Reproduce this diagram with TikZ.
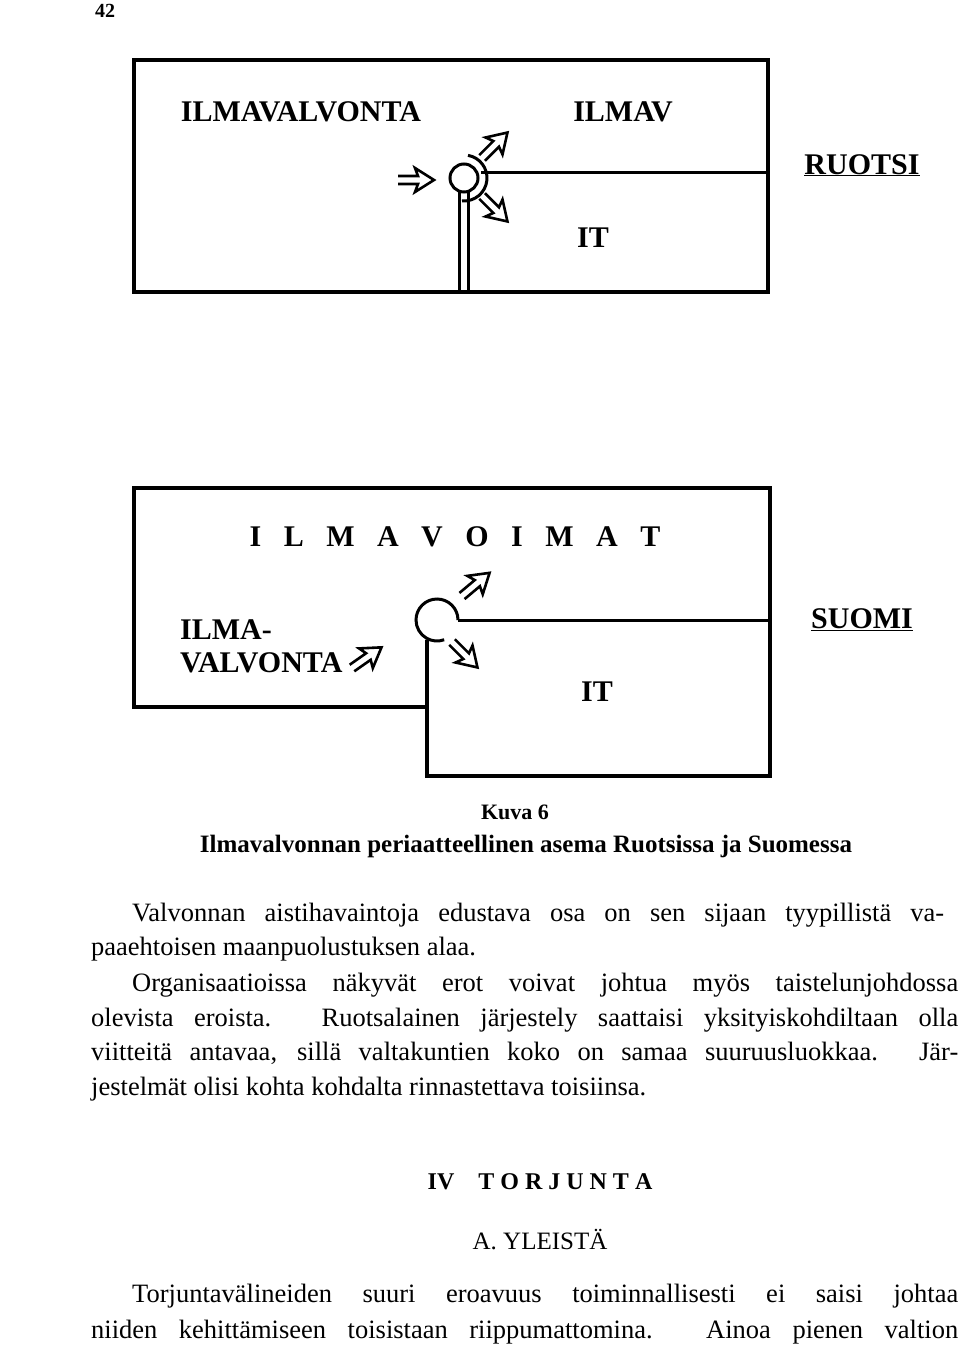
\documentclass[tikz,border=0pt]{standalone}
\usepackage{fontspec}
\setmainfont{Liberation Serif}
\newfontfamily\lab{Liberation Serif}
\begin{document}
\begin{tikzpicture}[x=1pt,y=-1pt,
  box/.style={line width=3.5pt},
  thin/.style={line width=3pt},
  lbl/.style={font=\lab\bfseries\fontsize{30}{30}\selectfont,inner sep=0pt},
  body/.style={font=\fontsize{26.5}{30}\selectfont,inner sep=0pt,anchor=base west},
  pics/barrow/.style={code={\draw[line width=2.6pt,line join=miter,fill=white]
     (0,-4)--(20,-4)--(17,-12)--(36,0)--(17,12)--(20,4)--(0,4);}}]
\useasboundingbox (0,0) rectangle (960,1346);
\node[anchor=base west,inner sep=0pt,font=\bfseries\fontsize{20}{20}\selectfont] (pg) at (95,18) {42};
% top diagram
\draw[box] (134,60) rectangle (768,292);
\draw[thin] (481,172) -- (768,172);
\node[circle,draw,line width=3pt,minimum size=28pt,inner sep=0pt] (c1) at (464,178) {};
\draw[thin] (464,178) ++(95:23) arc (95:-80:23);
\draw[thin] (459,192) -- (459,292);
\draw[thin] (468,192) -- (468,292);
\pic at (398,180) {barrow};
\pic[rotate=45] at (482,158) {barrow};
\pic[rotate=-45] at (482,196) {barrow};
\node[lbl] (t1) at (301,112) {ILMAVALVONTA};
\node[lbl] (t2) at (623,112) {ILMAV};
\node[lbl] (t3) at (593,238) {IT};
\node[lbl,anchor=base] (t4) at (862,174) {\underline{RUOTSI}};
% bottom diagram
\draw[box] (427,707) -- (134,707) -- (134,488) -- (770,488) -- (770,776) -- (427,776) -- (427,640);
\draw[thin] (458,620) -- (770,620);
\draw[thin] (458,620) arc (0:-180:21) arc (180:70:21);
\pic[rotate=40] at (462,596) {barrow};
\pic[rotate=-45] at (452,642) {barrow};
\pic[rotate=35] at (352,668) {barrow};
\node[lbl] (b1) at (455,537) {I\ \ \ L\ \ \ M\ \ \ A\ \ \ V\ \ \ O\ \ \ I\ \ \ M\ \ \ A\ \ \ T};
\node[lbl,anchor=west] (b2) at (180,630) {ILMA-};
\node[lbl,anchor=west] (b3) at (180,663) {VALVONTA};
\node[lbl] (b4) at (597,692) {IT};
\node[lbl,anchor=base] (b5) at (862,628) {\underline{SUOMI}};
% caption
\node[font=\bfseries\fontsize{22}{22}\selectfont,inner sep=0pt] (k1) at (515,812) {Kuva 6};
\node[font=\bfseries\fontsize{25}{25}\selectfont,inner sep=0pt] (k2) at (526,846) {Ilmavalvonnan periaatteellinen asema Ruotsissa ja Suomessa};
% body
\node[body] (p1) at (132,921) {\makebox[812pt][s]{Valvonnan aistihavaintoja edustava osa on sen sijaan tyypillistä va-}};
\node[body] (p2) at (91,955) {paaehtoisen maanpuolustuksen alaa.};
\node[body] (p3) at (132,991) {\makebox[826pt][s]{Organisaatioissa näkyvät erot voivat johtua myös taistelunjohdossa}};
\node[body] (p4) at (91,1026) {\makebox[867pt][s]{olevista eroista. Ruotsalainen järjestely saattaisi yksityiskohdiltaan olla}};
\node[body] (p5) at (91,1060) {\makebox[867pt][s]{viitteitä antavaa, sillä valtakuntien koko on samaa suuruusluokkaa. Jär-}};
\node[body] (p6) at (91,1095) {jestelmät olisi kohta kohdalta rinnastettava toisiinsa.};
\node[font=\bfseries\fontsize{24}{24}\selectfont,inner sep=0pt] (h1) at (540,1182) {IV\ \ \ \ T\ O\ R\ J\ U\ N\ T\ A};
\node[font=\fontsize{25}{25}\selectfont,inner sep=0pt] (h2) at (540,1240) {A. YLEISTÄ};
\node[body] (p7) at (132,1302) {\makebox[826pt][s]{Torjuntavälineiden suuri eroavuus toiminnallisesti ei saisi johtaa}};
\node[body] (p8) at (91,1338) {\makebox[867pt][s]{niiden kehittämiseen toisistaan riippumattomina. Ainoa pienen valtion}};
\end{tikzpicture}
\end{document}
